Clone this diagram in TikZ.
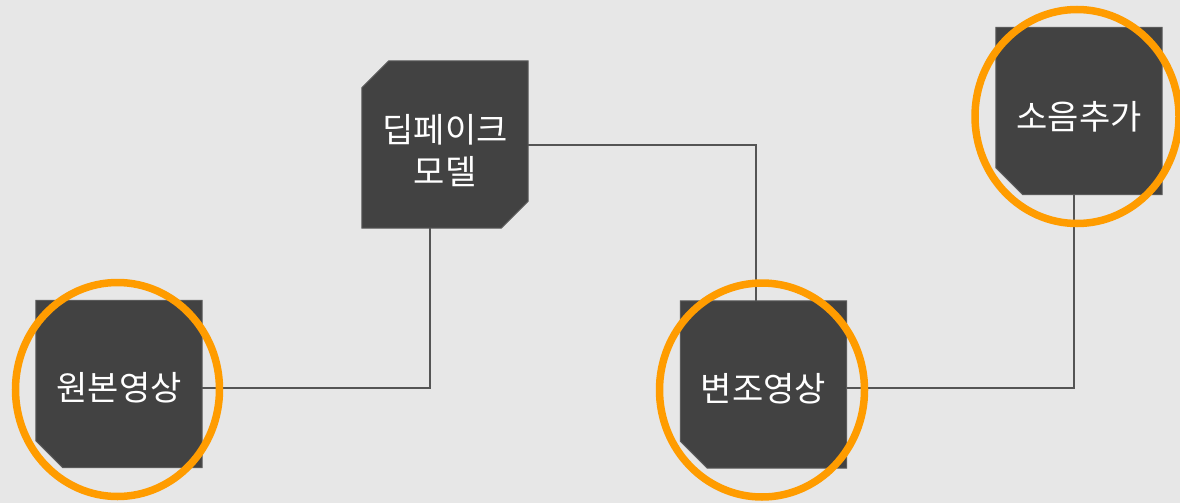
\documentclass[tikz,border=0pt]{standalone}
\usepackage{fontspec}
\newfontfamily\kr{Noto Sans CJK KR}
\definecolor{bg}{HTML}{E7E7E7}
\definecolor{boxc}{HTML}{424242}
\definecolor{boxedge}{HTML}{5A5A5A}
\definecolor{linec}{HTML}{555555}
\definecolor{ring}{HTML}{FF9C00}
\tikzset{
  box/.style={rectangle, minimum width=166pt, minimum height=167pt, inner sep=0pt,
    text=white, font=\kr\fontsize{34}{42}\selectfont, align=center},
  conn/.style={draw=linec, line width=1.4pt},
  ringst/.style={draw=ring, line width=7.5pt},
  boxfill/.style={fill=boxc, draw=boxedge, line width=1pt}
}
\begin{document}
\begin{tikzpicture}[x=1pt,y=-1pt]
\fill[bg] (0,0) rectangle (1180,503);
\useasboundingbox (0,0) rectangle (1180,503);
% nodes (invisible frames)
\node[box] (orig) at (119,384) {};
\node[box] (deep) at (445,144.5) {};
\node[box] (mod) at (763.5,384.5) {};
\node[box] (noise) at (1079,111) {};
% shapes
\fill[boxfill] (orig.north west) -- (orig.north east) -- (orig.south east)
  -- ([xshift=27pt]orig.south west) -- ([yshift=27pt]orig.south west) -- cycle;
\fill[boxfill] ([xshift=27pt]deep.north west) -- (deep.north east)
  -- ([yshift=27pt]deep.south east) -- ([xshift=-27pt]deep.south east)
  -- (deep.south west) -- ([yshift=-27pt]deep.north west) -- cycle;
\fill[boxfill] (mod.north west) -- (mod.north east) -- (mod.south east)
  -- ([xshift=27pt]mod.south west) -- ([yshift=27pt]mod.south west) -- cycle;
\fill[boxfill] (noise.north west) -- (noise.north east) -- (noise.south east)
  -- ([xshift=27pt]noise.south west) -- ([yshift=27pt]noise.south west) -- cycle;
% texts
\node[box] at ([yshift=-4pt]orig) {원본영상};
\node[box] at ([yshift=-6pt]deep) {딥페이크\\모델};
\node[box] at ([yshift=-4pt]mod) {변조영상};
\node[box] at ([yshift=-6pt]noise) {소음추가};
% connectors
\draw[conn] (orig.east |- 0,388) -- (430,388) -- (430,0 |- deep.south);
\draw[conn] (deep.east |- 0,145) -- (756,145) -- (756,0 |- mod.north);
\draw[conn] (mod.east |- 0,388) -- (1074,388) -- (1074,0 |- noise.south);
% rings
\draw[ringst] (117.5,389.5) ellipse [x radius=102, y radius=107];
\draw[ringst] (762,390) ellipse [x radius=102.5, y radius=107];
\draw[ringst] (1077,116.5) ellipse [x radius=102, y radius=107];
\end{tikzpicture}
\end{document}
